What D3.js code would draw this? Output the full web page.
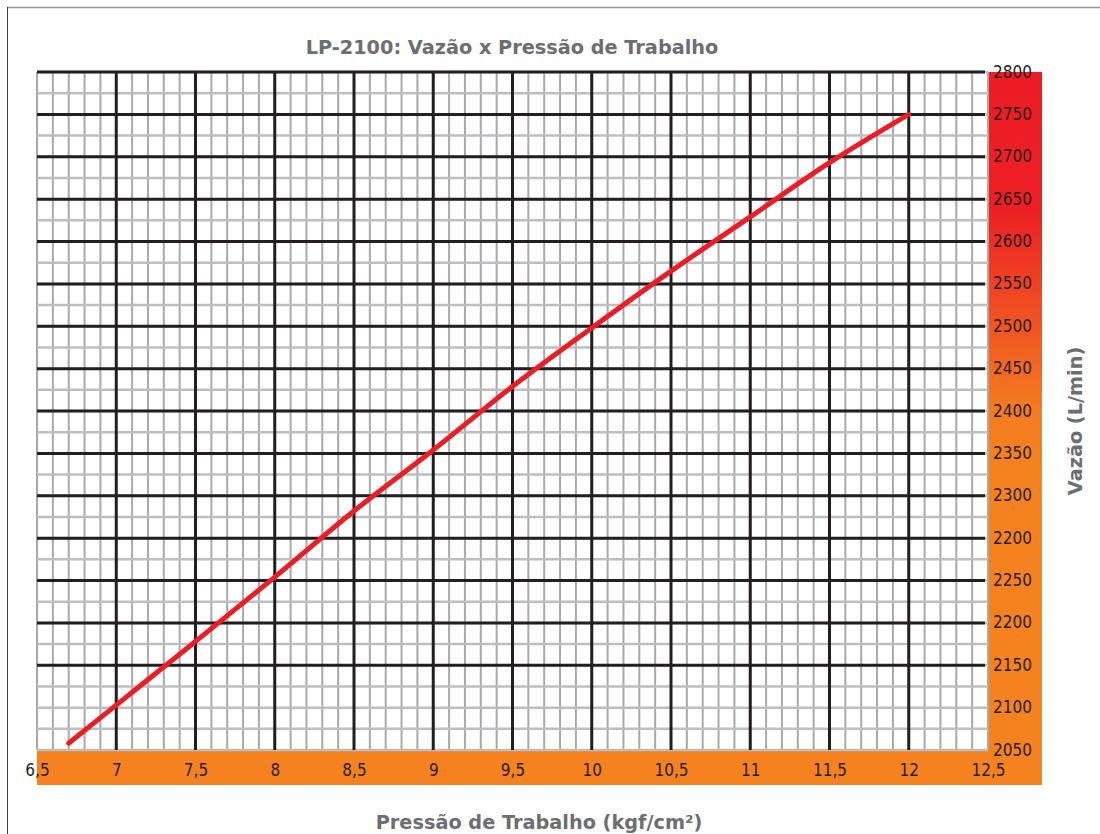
<!DOCTYPE html>
<html>
<head>
<meta charset="utf-8">
<script src="https://cdn.jsdelivr.net/npm/d3@7"></script>
<style>
  body { margin: 0; background: #fff; }
  text { font-family: "DejaVu Sans", sans-serif; }
  .tick text { font-family: "DejaVu Sans Condensed", "DejaVu Sans", sans-serif; }
</style>
</head>
<body>
<div id="my_dataviz"></div>
<script>
// curve (pressure kgf/cm2 -> flow L/min)
var pressao = [6.7, 7, 7.5, 8, 8.5, 9, 9.5, 10, 10.5, 11, 11.5, 12];
var vazao = [2008, 2053, 2128, 2204, 2282, 2354, 2429, 2498, 2565, 2629, 2693, 2750];

// tick values and the labels printed on the chart (lower labels are as printed)
var xTicks = [6.5, 7, 7.5, 8, 8.5, 9, 9.5, 10, 10.5, 11, 11.5, 12, 12.5];
var xLabels = ["6,5", "7", "7,5", "8", "8,5", "9", "9,5", "10", "10,5", "11", "11,5", "12", "12,5"];
var yTicks = [2800, 2750, 2700, 2650, 2600, 2550, 2500, 2450, 2400, 2350, 2300, 2250, 2200, 2150, 2100, 2050, 2000];
var yLabels = ["2800", "2750", "2700", "2650", "2600", "2550", "2500", "2450", "2400", "2350", "2300", "2200", "2250", "2200", "2150", "2100", "2050"];

var W = 1100, H = 834;
var margin = { top: 72, left: 37 },
    width = 951,
    height = 678;

var svg = d3.select("#my_dataviz")
    .append("svg")
    .attr("width", W)
    .attr("height", H);

var defs = svg.append("defs");
var grad = defs.append("linearGradient")
    .attr("id", "bandGrad")
    .attr("gradientUnits", "userSpaceOnUse")
    .attr("x1", 0).attr("x2", 0)
    .attr("y1", margin.top).attr("y2", margin.top + height);
grad.append("stop").attr("offset", "0%").attr("stop-color", "#ed1c24");
grad.append("stop").attr("offset", "20%").attr("stop-color", "#ed1f24");
grad.append("stop").attr("offset", "50%").attr("stop-color", "#f47c20");
grad.append("stop").attr("offset", "58%").attr("stop-color", "#f5821f");
grad.append("stop").attr("offset", "100%").attr("stop-color", "#f5821f");

// frame
svg.append("line").attr("x1", 7).attr("x2", W).attr("y1", 7.5).attr("y2", 7.5)
    .attr("stroke", "#939598").attr("stroke-width", 1.5);
svg.append("line").attr("x1", 7.5).attr("x2", 7.5).attr("y1", 7).attr("y2", H)
    .attr("stroke", "#414042").attr("stroke-width", 1);

var x = d3.scaleLinear().domain([6.5, 12.5]).range([0, width]);
var y = d3.scaleLinear().domain([2000, 2800]).range([height, 0]);

// colored bands (right and bottom)
svg.append("rect")
    .attr("x", margin.left + width).attr("y", margin.top)
    .attr("width", 54).attr("height", height + 35)
    .attr("fill", "url(#bandGrad)");
svg.append("rect")
    .attr("x", margin.left).attr("y", margin.top + height)
    .attr("width", width + 54).attr("height", 35)
    .attr("fill", "#f5821f");

var g = svg.append("g")
    .attr("transform", "translate(" + margin.left + "," + margin.top + ")");

g.append("rect").attr("width", width).attr("height", height).attr("fill", "#fff");

// minor grid
var xMinor = d3.range(65, 126).map(function (d) { return d / 10; });
var yMinor = d3.range(0, 33).map(function (d) { return 2000 + d * 25; });

g.selectAll(".vminor")
    .data(xMinor)
    .enter()
    .append("line")
    .attr("x1", function (d) { return x(d); })
    .attr("x2", function (d) { return x(d); })
    .attr("y1", 0).attr("y2", height)
    .attr("stroke", "#a7a9ac")
    .attr("stroke-width", 2);

g.selectAll(".hminor")
    .data(yMinor)
    .enter()
    .append("line")
    .attr("x1", 0).attr("x2", width)
    .attr("y1", function (d) { return y(d); })
    .attr("y2", function (d) { return y(d); })
    .attr("stroke", "#bcbec0")
    .attr("stroke-width", 2.5);

// major grid
g.selectAll(".vmajor")
    .data(xTicks.slice(1, -1))
    .enter()
    .append("line")
    .attr("x1", function (d) { return x(d); })
    .attr("x2", function (d) { return x(d); })
    .attr("y1", 0).attr("y2", height)
    .attr("stroke", "#231f20")
    .attr("stroke-width", 3);

g.selectAll(".hmajor")
    .data(yTicks.slice(0, -2))
    .enter()
    .append("line")
    .attr("x1", 0).attr("x2", width - 3)
    .attr("y1", function (d) { return y(d); })
    .attr("y2", function (d) { return y(d); })
    .attr("stroke", "#231f20")
    .attr("stroke-width", 3);

// curve
var line = d3.line()
    .x(function (d) { return x(d[0]); })
    .y(function (d) { return y(d[1]); })
    .curve(d3.curveMonotoneX);

g.append("path")
    .datum(pressao.map(function (p, i) { return [p, vazao[i]]; }))
    .attr("d", line)
    .attr("fill", "none")
    .attr("stroke", "#ed1c24")
    .attr("stroke-width", 5)
    .attr("stroke-linecap", "round");

// axes (labels only)
var xAxis = g.append("g")
    .attr("transform", "translate(0," + height + ")")
    .call(d3.axisBottom(x).tickValues(xTicks)
        .tickFormat(function (d, i) { return xLabels[i]; })
        .tickSize(0).tickPadding(0));
var yAxis = g.append("g")
    .attr("transform", "translate(" + (width + 5) + ",0)")
    .call(d3.axisRight(y).tickValues(yTicks)
        .tickFormat(function (d, i) { return yLabels[i]; })
        .tickSize(0).tickPadding(0));

[xAxis, yAxis].forEach(function (a) {
    a.select(".domain").remove();
    a.selectAll("text")
        .attr("fill", "#231f20")
        .style("font-size", "17px");
});
xAxis.selectAll("text").attr("y", 20).attr("dy", "0.35em");
yAxis.selectAll("text").attr("dy", "0.3em");

// titles
svg.append("text")
    .attr("x", 512).attr("y", 47).attr("dy", "0.35em")
    .attr("text-anchor", "middle")
    .attr("fill", "#6d6e71")
    .style("font-weight", "bold")
    .style("font-size", "19.3px")
    .text("LP-2100: Vazão x Pressão de Trabalho");

svg.append("text")
    .attr("x", 539).attr("y", 822).attr("dy", "0.35em")
    .attr("text-anchor", "middle")
    .attr("fill", "#6d6e71")
    .style("font-weight", "bold")
    .style("font-size", "19.3px")
    .text("Pressão de Trabalho (kgf/cm²)");

svg.append("text")
    .attr("transform", "translate(1075,421) rotate(-90)")
    .attr("dy", "0.35em")
    .attr("text-anchor", "middle")
    .attr("fill", "#6d6e71")
    .style("font-weight", "bold")
    .style("font-size", "19.3px")
    .text("Vazão (L/min)");
</script>
</body>
</html>
